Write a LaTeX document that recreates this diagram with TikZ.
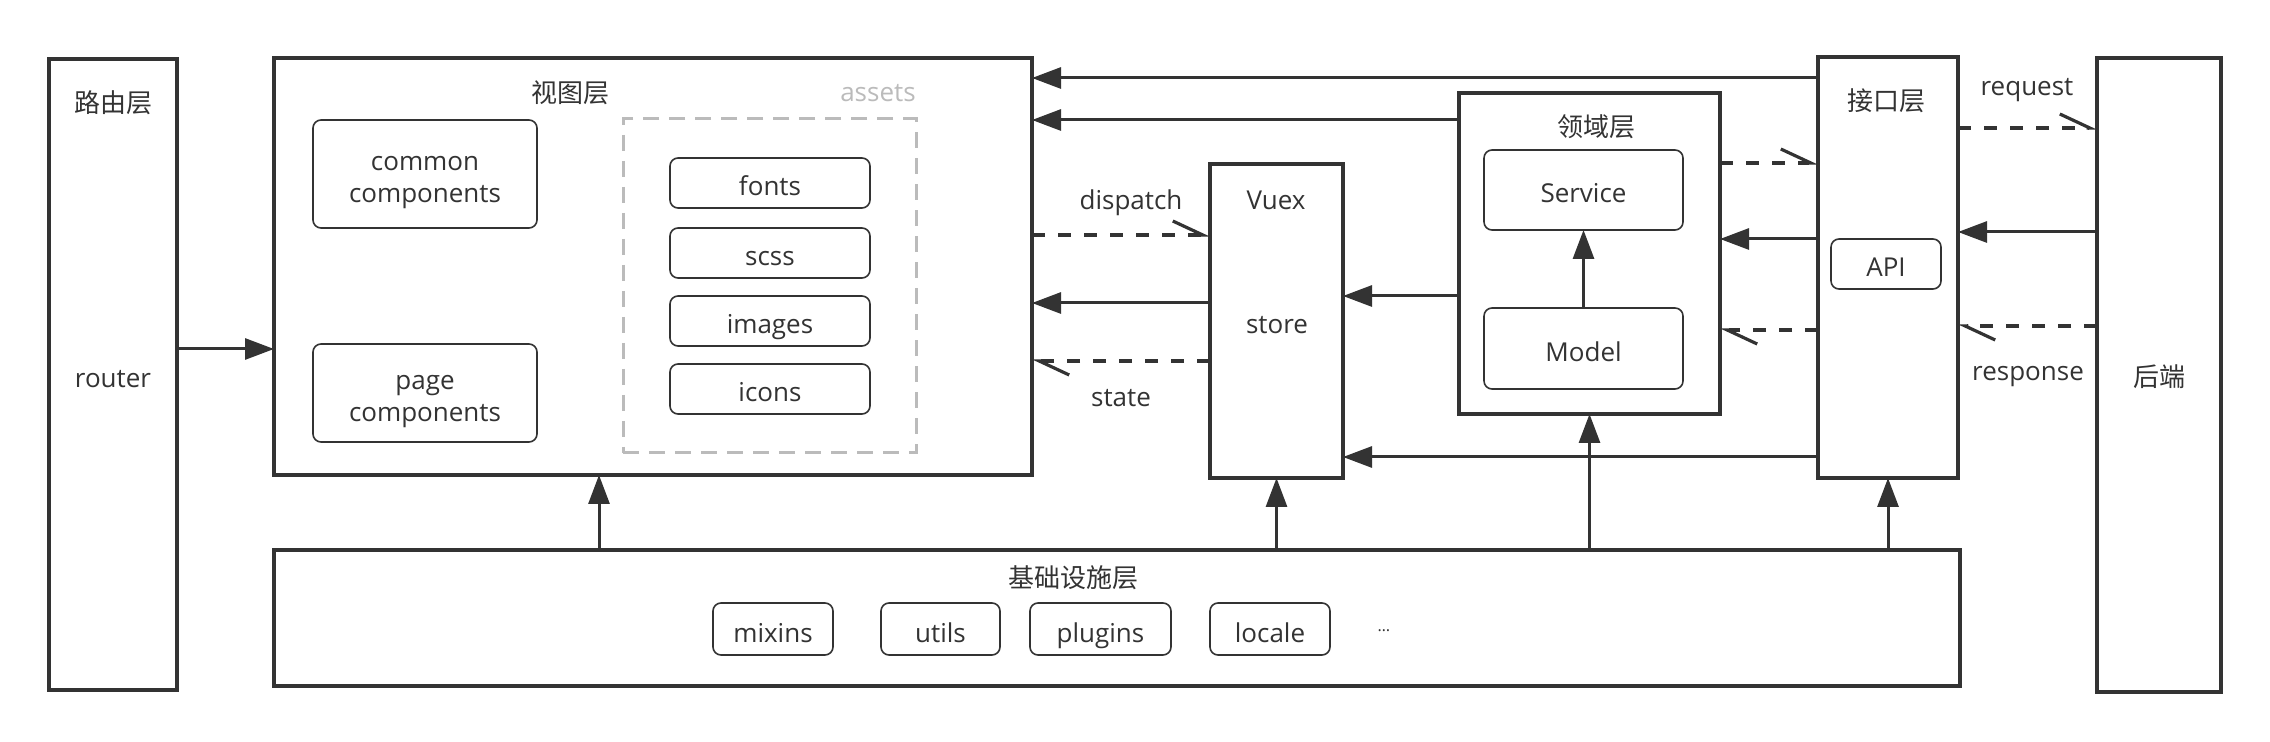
\documentclass[tikz,border=0pt]{standalone}
\usepackage{fontspec}
\setmainfont{Open Sans}
\newfontfamily\cjk{Noto Sans CJK SC}
\usetikzlibrary{arrows.meta}
\definecolor{ink}{HTML}{333333}
\definecolor{ghost}{HTML}{BBBBBB}
\begin{document}
\begin{tikzpicture}[x=0.5pt,y=-0.5pt,
  wh/.style 2 args={minimum width=#1*0.5pt, minimum height=#2*0.5pt},
  layer/.style={draw=ink, line width=1.6pt, inner sep=0pt, outer sep=0pt, fill=white},
  item/.style={draw=ink, line width=0.8pt, rounded corners=4pt, inner sep=0pt, outer sep=0pt, text=ink, font=\fontsize{13}{16}\selectfont, text height=14pt, text depth=1pt},
  lbl/.style={text=ink, inner sep=0pt, align=center, font=\fontsize{13}{16}\selectfont},
  cjklbl/.style={text=ink, inner sep=0pt, font=\cjk\fontsize{13}{15}\selectfont},
  arr/.style={draw=ink, line width=1.5pt, -{Triangle[length=14.5pt,width=10.5pt]}},
  darr/.style={draw=ink, line width=1.6pt, dash pattern=on 6.5pt off 6.5pt, -{Straight Barb[harpoon,length=15pt,width=14pt]}}
]
\useasboundingbox (0,0) rectangle (2270,742);

% layers
\node[layer, wh={128}{631}] (router) at (113,374.5) {};
\node[cjklbl] (routerT) at (113,103) {路由层};
\node[lbl] (routerL) at (113,379) {router};

\node[layer, wh={758}{417}] (view) at (653,266.5) {};
\node[cjklbl] (viewT) at (570,93) {视图层};
\node[lbl, text=ghost] (assetsT) at (878,93) {assets};
\node[draw=ghost, line width=1.5pt, dash pattern=on 8pt off 5pt, inner sep=0pt, wh={293}{334}] (assetbox) at (769.5,286) {};
\node[item, wh={224}{108}] (common) at (425,174) {};
\node[lbl] (commonT) at (425,183) {common\\components};
\node[item, wh={224}{98}] (page) at (425,393) {};
\node[lbl] (pageT) at (425,402) {page\\components};
\node[item, wh={200}{50}] (fonts) at (770,183) {fonts};
\node[item, wh={200}{50}] (scss) at (770,253) {scss};
\node[item, wh={200}{50}] (images) at (770,321) {images};
\node[item, wh={200}{50}] (icons) at (770,389) {icons};

\node[layer, wh={133}{314}] (vuex) at (1276.5,321) {};
\node[lbl] (vuexT) at (1276,200) {Vuex};
\node[lbl] (storeT) at (1277,325) {store};

\node[layer, wh={261}{321}] (domain) at (1589.5,253.5) {};
\node[cjklbl] (domainT) at (1596,127) {领域层};
\node[item, wh={199}{80}] (service) at (1583.5,190) {Service};
\node[item, wh={199}{81}] (model) at (1583.5,348.5) {Model};

\node[layer, wh={140}{421}] (iface) at (1888,267.5) {};
\node[cjklbl] (ifaceT) at (1886,101) {接口层};
\node[item, wh={110}{50}] (api) at (1886,264) {API};

\node[layer, wh={124}{634}] (backend) at (2159,375) {};
\node[cjklbl] (backendT) at (2159,377) {后端};

\node[layer, wh={1686}{136}] (infra) at (1117,618) {};
\node[cjklbl] (infraT) at (1073,578) {基础设施层};
\node[item, wh={120}{52}] (mixins) at (773,629) {mixins};
\node[item, wh={119}{52}] (utils) at (940.5,629) {utils};
\node[item, wh={141}{52}] (plugins) at (1100.5,629) {plugins};
\node[item, wh={120}{52}] (locale) at (1270,629) {locale};
\node[text=ink, inner sep=0pt, font=\fontsize{8}{9}\selectfont] (dots) at (1384,631) {…};

% helper levels
\coordinate (h78) at (0,78);
\coordinate (h120) at (0,120);
\coordinate (h128) at (0,128);
\coordinate (h163) at (0,163);
\coordinate (h232) at (0,232);
\coordinate (h235) at (0,235);
\coordinate (h239) at (0,239);
\coordinate (h296) at (0,296);
\coordinate (h303) at (0,303);
\coordinate (h326) at (0,326);
\coordinate (h330) at (0,330);
\coordinate (h349) at (0,349);
\coordinate (h361) at (0,361);
\coordinate (h457) at (0,457);
\coordinate (v599) at (599,0);

% connectors
\draw[arr] (router.east |- h349) -- (view.west |- h349);
\draw[arr] (iface.west |- h78) -- (view.east |- h78);
\draw[arr] (domain.west |- h120) -- (view.east |- h120);
\draw[darr] (view.east |- h235) -- (vuex.west |- h235);
\draw[arr] (vuex.west |- h303) -- (view.east |- h303);
\draw[darr] (vuex.west |- h361) -- (view.east |- h361);
\draw[arr] (domain.west |- h296) -- (vuex.east |- h296);
\draw[arr] (iface.west |- h457) -- (vuex.east |- h457);
\draw[arr] (model.north) -- (service.south);
\draw[darr] (domain.east |- h163) -- (iface.west |- h163);
\draw[arr] (iface.west |- h239) -- (domain.east |- h239);
\draw[darr] (iface.west |- h330) -- (domain.east |- h330);
\draw[darr] (iface.east |- h128) -- (backend.west |- h128);
\draw[arr] (backend.west |- h232) -- (iface.east |- h232);
\draw[darr] (backend.west |- h326) -- (iface.east |- h326);

\draw[arr] (infra.north -| v599) -- (view.south -| v599);
\draw[arr] (infra.north -| vuex.south) -- (vuex.south);
\draw[arr] (infra.north -| domain.south) -- (domain.south);
\draw[arr] (infra.north -| iface.south) -- (iface.south);

% connector labels
\node[lbl] (dispatchL) at (1131,203) {dispatch};
\node[lbl] (stateL) at (1121,398) {state};
\node[lbl] (requestL) at (2027,90) {request};
\node[lbl] (responseL) at (2028,377) {response};
\end{tikzpicture}
\end{document}
